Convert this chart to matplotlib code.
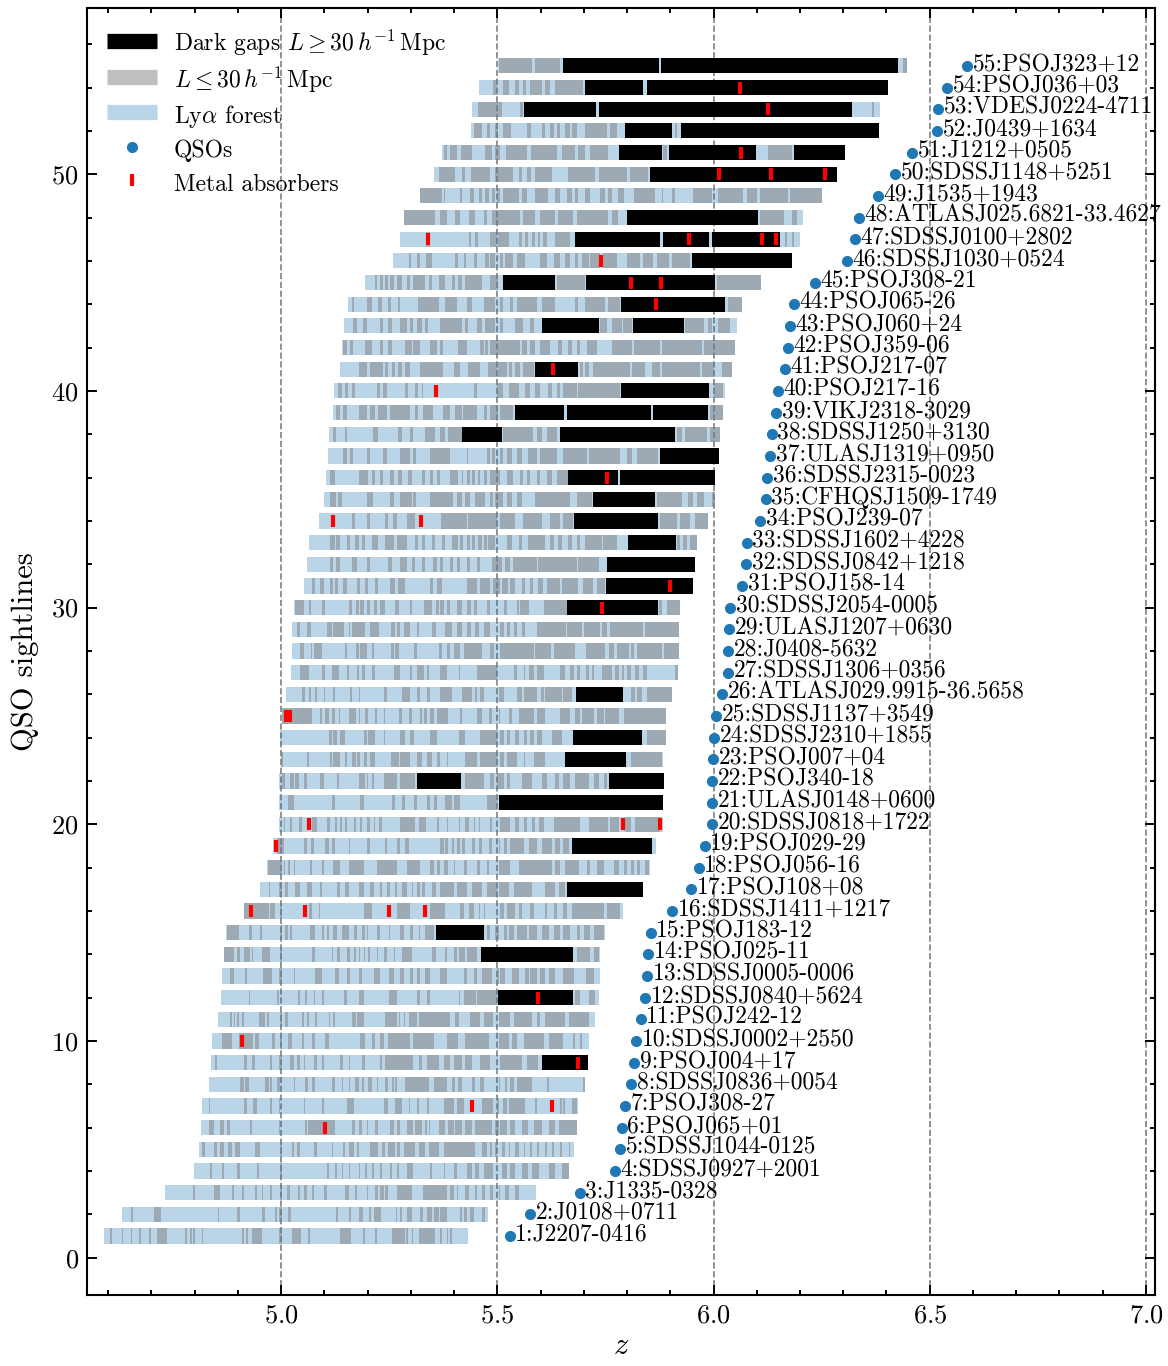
import numpy as np
import matplotlib
matplotlib.use("Agg")
import matplotlib.pyplot as plt
from matplotlib.lines import Line2D
from matplotlib.ticker import MultipleLocator

plt.rcParams["font.family"] = "cmr10"
plt.rcParams["mathtext.fontset"] = "cm"
plt.rcParams["axes.unicode_minus"] = False
plt.rcParams["axes.formatter.use_mathtext"] = True

# ---------------------------------------------------------------- data
names = [
    "J2207-0416", "J0108+0711", "J1335-0328", "SDSSJ0927+2001", "SDSSJ1044-0125",
    "PSOJ065+01", "PSOJ308-27", "SDSSJ0836+0054", "PSOJ004+17", "SDSSJ0002+2550",
    "PSOJ242-12", "SDSSJ0840+5624", "SDSSJ0005-0006", "PSOJ025-11", "PSOJ183-12",
    "SDSSJ1411+1217", "PSOJ108+08", "PSOJ056-16", "PSOJ029-29", "SDSSJ0818+1722",
    "ULASJ0148+0600", "PSOJ340-18", "PSOJ007+04", "SDSSJ2310+1855", "SDSSJ1137+3549",
    "ATLASJ029.9915-36.5658", "SDSSJ1306+0356", "J0408-5632", "ULASJ1207+0630", "SDSSJ2054-0005",
    "PSOJ158-14", "SDSSJ0842+1218", "SDSSJ1602+4228", "PSOJ239-07", "CFHQSJ1509-1749",
    "SDSSJ2315-0023", "ULASJ1319+0950", "SDSSJ1250+3130", "VIKJ2318-3029", "PSOJ217-16",
    "PSOJ217-07", "PSOJ359-06", "PSOJ060+24", "PSOJ065-26", "PSOJ308-21",
    "SDSSJ1030+0524", "SDSSJ0100+2802", "ATLASJ025.6821-33.4627", "J1535+1943", "SDSSJ1148+5251",
    "J1212+0505", "J0439+1634", "VDESJ0224-4711", "PSOJ036+03", "PSOJ323+12",
]

z_qso = [
    5.529, 5.576, 5.691, 5.772, 5.784, 5.788, 5.795, 5.809, 5.816, 5.821,
    5.832, 5.842, 5.846, 5.849, 5.855, 5.904, 5.948, 5.966, 5.980, 5.997,
    5.997, 5.997, 5.999, 6.001, 6.006, 6.020, 6.034, 6.034, 6.036, 6.038,
    6.066, 6.075, 6.077, 6.108, 6.121, 6.124, 6.131, 6.135, 6.145, 6.149,
    6.165, 6.172, 6.177, 6.186, 6.235, 6.309, 6.327, 6.336, 6.380, 6.420,
    6.459, 6.517, 6.519, 6.540, 6.586,
]

forest_start = [
    4.591, 4.633, 4.732, 4.799, 4.811, 4.815, 4.818, 4.832, 4.838, 4.841,
    4.853, 4.861, 4.864, 4.867, 4.873, 4.913, 4.952, 4.967, 4.981, 4.994,
    4.994, 4.994, 5.000, 4.998, 5.002, 5.012, 5.023, 5.025, 5.025, 5.029,
    5.052, 5.060, 5.065, 5.088, 5.099, 5.104, 5.109, 5.110, 5.120, 5.123,
    5.136, 5.141, 5.146, 5.155, 5.194, 5.259, 5.275, 5.284, 5.321, 5.354,
    5.372, 5.439, 5.442, 5.458, 5.502,
]

forest_end = [
    5.432, 5.478, 5.589, 5.665, 5.678, 5.684, 5.686, 5.703, 5.710, 5.711,
    5.727, 5.734, 5.738, 5.738, 5.750, 5.791, 5.837, 5.853, 5.866, 5.883,
    5.883, 5.886, 5.883, 5.889, 5.889, 5.904, 5.917, 5.919, 5.919, 5.922,
    5.953, 5.957, 5.961, 5.988, 6.004, 6.004, 6.013, 6.015, 6.023, 6.027,
    6.042, 6.050, 6.054, 6.065, 6.109, 6.181, 6.199, 6.208, 6.250, 6.285,
    6.304, 6.383, 6.385, 6.404, 6.448,
]

# dark gaps (L >= 30 cMpc/h): sightline number, start z, end z
dark_row = [9, 12, 14, 15, 17, 19, 21, 22, 22, 23, 24, 26, 30, 31, 32, 33, 34, 35,
            36, 36, 37, 38, 38, 39, 39, 39, 40, 41, 43, 43, 44, 45, 45, 46,
            47, 47, 47, 48, 50, 51, 51, 51, 52, 52, 53, 53, 54, 54, 55, 55]
dark_start = [5.603, 5.501, 5.463, 5.357, 5.662, 5.673, 5.505, 5.315, 5.759, 5.657,
              5.674, 5.683, 5.662, 5.752, 5.753, 5.803, 5.677, 5.722,
              5.664, 5.784, 5.876, 5.419, 5.645, 5.541, 5.660, 5.859, 5.786, 5.587,
              5.603, 5.814, 5.786, 5.512, 5.705, 5.951,
              5.680, 5.884, 5.997, 5.800, 5.853, 5.781, 5.897, 6.186, 5.795, 5.925,
              5.562, 5.736, 5.703, 5.846, 5.653, 5.879]
dark_end = [5.710, 5.675, 5.675, 5.470, 5.837, 5.858, 5.883, 5.417, 5.886, 5.798,
            5.835, 5.791, 5.872, 5.953, 5.957, 5.913, 5.872, 5.865,
            5.778, 6.004, 6.013, 5.510, 5.911, 5.654, 5.855, 5.987, 5.990, 5.687,
            5.735, 5.932, 6.027, 5.633, 6.004, 6.181,
            5.876, 5.990, 6.154, 6.102, 6.285, 5.880, 6.098, 6.304, 5.905, 6.383,
            5.728, 6.320, 5.836, 6.404, 5.874, 6.427]

# metal absorbers: sightline number and redshift
metal_row = [6, 7, 7, 9, 10, 12, 16, 16, 16, 16, 19, 20, 20, 20, 25, 25, 30, 31,
             34, 34, 36, 40, 41, 44, 45, 45, 46, 47, 47, 47, 47, 50, 50, 50, 51, 53, 54]
metal_z = [5.101, 5.442, 5.627, 5.687, 4.910, 5.595, 4.930, 5.056, 5.250, 5.333,
           4.987, 5.065, 5.791, 5.877, 5.011, 5.020, 5.741, 5.900,
           5.121, 5.323, 5.754, 5.358, 5.629, 5.868, 5.809, 5.879, 5.740,
           5.340, 5.943, 6.112, 6.145, 6.013, 6.133, 6.258, 6.064, 6.127, 6.061]

# short dark gaps (L <= 30 cMpc/h) per sightline, (start z, end z)
gray_01 = [(4.604, 4.608), (4.631, 4.635), (4.652, 4.656), (4.672, 4.676), (4.695, 4.699),
           (4.714, 4.735), (4.778, 4.782), (4.789, 4.793), (4.797, 4.801), (4.816, 4.820),
           (4.910, 4.914), (4.919, 4.923), (4.932, 4.955), (4.996, 5.001), (5.025, 5.045),
           (5.063, 5.067), (5.135, 5.161), (5.190, 5.194), (5.217, 5.221), (5.256, 5.287),
           (5.289, 5.294), (5.302, 5.306), (5.318, 5.356), (5.368, 5.372), (5.383, 5.387),
           (5.390, 5.394)]
gray_02 = [(4.652, 4.657), (4.706, 4.722), (4.853, 4.857), (4.897, 4.905), (4.955, 4.963),
           (4.986, 4.991), (4.996, 5.002), (5.017, 5.022), (5.126, 5.131), (5.157, 5.162),
           (5.179, 5.189), (5.204, 5.208), (5.215, 5.230), (5.265, 5.268), (5.276, 5.280),
           (5.291, 5.302), (5.321, 5.329), (5.337, 5.348), (5.354, 5.364), (5.368, 5.383),
           (5.414, 5.418), (5.422, 5.429), (5.436, 5.445), (5.464, 5.472)]
gray_03 = [(4.797, 4.801), (4.844, 4.859), (4.886, 4.890), (4.909, 4.913), (4.940, 4.944),
           (4.956, 4.959), (4.975, 4.979), (4.998, 5.002), (5.013, 5.021), (5.040, 5.044),
           (5.052, 5.060), (5.071, 5.075), (5.098, 5.106), (5.148, 5.156), (5.171, 5.175),
           (5.198, 5.202), (5.218, 5.225), (5.229, 5.237), (5.241, 5.248), (5.268, 5.302),
           (5.329, 5.383), (5.391, 5.399), (5.407, 5.410), (5.426, 5.434), (5.449, 5.453),
           (5.464, 5.472), (5.484, 5.491), (5.503, 5.507), (5.518, 5.526), (5.541, 5.549)]
gray_04 = [(4.836, 4.840), (4.863, 4.867), (4.898, 4.905), (4.944, 4.948), (4.998, 5.002),
           (5.106, 5.110), (5.125, 5.129), (5.141, 5.144), (5.156, 5.160), (5.179, 5.183),
           (5.194, 5.198), (5.210, 5.214), (5.229, 5.233), (5.252, 5.256), (5.268, 5.272),
           (5.291, 5.306), (5.345, 5.349), (5.376, 5.380), (5.399, 5.407), (5.430, 5.441),
           (5.449, 5.457), (5.468, 5.491), (5.511, 5.522), (5.530, 5.541), (5.557, 5.572),
           (5.580, 5.596), (5.619, 5.634), (5.649, 5.665)]
gray_05 = [(4.817, 4.824), (4.844, 4.851), (4.859, 4.867), (4.878, 4.886), (4.894, 4.905),
           (4.940, 4.952), (4.998, 5.002), (5.025, 5.029), (5.036, 5.044), (5.075, 5.083),
           (5.117, 5.121), (5.144, 5.148), (5.156, 5.168), (5.175, 5.179), (5.206, 5.225),
           (5.233, 5.241), (5.248, 5.264), (5.268, 5.275), (5.283, 5.310), (5.318, 5.333),
           (5.341, 5.364), (5.376, 5.449), (5.464, 5.476), (5.484, 5.487), (5.495, 5.499),
           (5.511, 5.518), (5.526, 5.530), (5.541, 5.549), (5.561, 5.565), (5.576, 5.580),
           (5.592, 5.596), (5.611, 5.615), (5.626, 5.630), (5.646, 5.649), (5.665, 5.669)]
gray_06 = [(4.832, 4.844), (4.859, 4.867), (4.875, 4.882), (4.929, 4.932), (4.994, 4.998),
           (5.056, 5.060), (5.063, 5.125), (5.164, 5.171), (5.179, 5.187), (5.198, 5.202),
           (5.218, 5.225), (5.252, 5.260), (5.268, 5.275), (5.291, 5.306), (5.310, 5.326),
           (5.333, 5.337), (5.341, 5.345), (5.364, 5.380), (5.387, 5.399), (5.403, 5.418),
           (5.426, 5.441), (5.449, 5.487), (5.495, 5.503), (5.507, 5.522), (5.530, 5.541),
           (5.557, 5.572), (5.584, 5.603), (5.619, 5.634), (5.642, 5.684)]
gray_07 = [(4.832, 4.836), (4.913, 4.921), (4.936, 4.944), (4.975, 4.979), (4.994, 4.998),
           (5.052, 5.056), (5.094, 5.098), (5.152, 5.168), (5.237, 5.248), (5.264, 5.279),
           (5.295, 5.299), (5.314, 5.318), (5.337, 5.341), (5.376, 5.399), (5.407, 5.422),
           (5.464, 5.491), (5.499, 5.503), (5.514, 5.522), (5.526, 5.565), (5.588, 5.592),
           (5.646, 5.649), (5.653, 5.657), (5.673, 5.684)]
gray_08 = [(4.905, 4.913), (4.917, 4.926), (4.963, 4.971), (4.975, 4.979), (4.990, 4.998),
           (5.029, 5.033), (5.056, 5.063), (5.071, 5.079), (5.117, 5.125), (5.141, 5.144),
           (5.156, 5.160), (5.171, 5.179), (5.187, 5.191), (5.202, 5.210), (5.221, 5.225),
           (5.241, 5.248), (5.256, 5.260), (5.264, 5.268), (5.287, 5.341), (5.353, 5.383),
           (5.395, 5.403), (5.410, 5.418), (5.441, 5.449), (5.460, 5.468), (5.503, 5.507),
           (5.518, 5.522), (5.530, 5.538), (5.545, 5.580), (5.615, 5.619), (5.699, 5.703)]
gray_09 = [(4.848, 4.851), (4.913, 4.921), (4.932, 4.939), (4.975, 4.979), (4.994, 5.002),
           (5.021, 5.029), (5.036, 5.044), (5.052, 5.056), (5.075, 5.083), (5.094, 5.098),
           (5.137, 5.144), (5.156, 5.160), (5.187, 5.195), (5.229, 5.233), (5.241, 5.306),
           (5.318, 5.326), (5.337, 5.364), (5.376, 5.391), (5.399, 5.418), (5.426, 5.441),
           (5.461, 5.484), (5.507, 5.557), (5.568, 5.595)]
gray_10 = [(4.863, 4.886), (4.903, 4.935), (4.940, 4.948), (4.979, 4.986), (4.998, 5.002),
           (5.017, 5.025), (5.048, 5.052), (5.071, 5.079), (5.102, 5.110), (5.183, 5.195),
           (5.210, 5.218), (5.229, 5.237), (5.248, 5.299), (5.306, 5.353), (5.383, 5.410),
           (5.426, 5.480), (5.503, 5.526), (5.534, 5.545), (5.561, 5.607), (5.619, 5.653),
           (5.676, 5.680), (5.692, 5.696)]
gray_11 = [(4.882, 4.886), (4.890, 4.894), (4.898, 4.902), (4.909, 4.913), (4.948, 4.963),
           (4.967, 4.971), (4.998, 5.002), (5.010, 5.017), (5.048, 5.052), (5.060, 5.064),
           (5.079, 5.083), (5.110, 5.114), (5.121, 5.125), (5.164, 5.172), (5.175, 5.191),
           (5.241, 5.268), (5.272, 5.276), (5.283, 5.287), (5.295, 5.314), (5.318, 5.391),
           (5.403, 5.411), (5.437, 5.461), (5.468, 5.491), (5.503, 5.530), (5.538, 5.580),
           (5.592, 5.599), (5.611, 5.657), (5.665, 5.711)]
gray_12 = [(4.925, 4.929), (4.990, 4.994), (5.040, 5.044), (5.056, 5.060), (5.075, 5.079),
           (5.094, 5.098), (5.145, 5.152), (5.179, 5.191), (5.249, 5.268), (5.314, 5.322),
           (5.337, 5.345), (5.411, 5.414), (5.422, 5.451), (5.454, 5.499), (5.680, 5.692),
           (5.711, 5.727)]
gray_13 = [(4.882, 4.890), (4.917, 4.921), (4.959, 4.979), (4.994, 5.002), (5.029, 5.033),
           (5.079, 5.094), (5.125, 5.133), (5.152, 5.160), (5.179, 5.187), (5.214, 5.229),
           (5.249, 5.260), (5.276, 5.283), (5.299, 5.306), (5.314, 5.322), (5.333, 5.345),
           (5.368, 5.384), (5.422, 5.430), (5.445, 5.453), (5.464, 5.488), (5.499, 5.503),
           (5.507, 5.518), (5.534, 5.549), (5.565, 5.573), (5.576, 5.592), (5.599, 5.611),
           (5.619, 5.634), (5.653, 5.677), (5.704, 5.723)]
gray_14 = [(4.867, 4.890), (4.898, 4.906), (4.913, 4.929), (4.933, 4.936), (4.956, 4.975),
           (4.998, 5.002), (5.071, 5.079), (5.118, 5.121), (5.129, 5.137), (5.152, 5.160),
           (5.168, 5.172), (5.179, 5.183), (5.191, 5.195), (5.202, 5.206), (5.222, 5.225),
           (5.237, 5.245), (5.260, 5.264), (5.279, 5.303), (5.349, 5.357), (5.380, 5.384),
           (5.399, 5.407), (5.411, 5.426), (5.430, 5.453), (5.684, 5.715), (5.723, 5.734)]
gray_15 = [(4.875, 4.902), (4.925, 4.933), (4.952, 4.956), (4.998, 5.002), (5.010, 5.017),
           (5.021, 5.025), (5.067, 5.079), (5.094, 5.098), (5.106, 5.110), (5.121, 5.129),
           (5.141, 5.156), (5.168, 5.175), (5.187, 5.195), (5.198, 5.202), (5.222, 5.229),
           (5.249, 5.252), (5.276, 5.283), (5.299, 5.306), (5.318, 5.322), (5.333, 5.353),
           (5.476, 5.484), (5.495, 5.503), (5.515, 5.522), (5.526, 5.538), (5.545, 5.569),
           (5.573, 5.592), (5.603, 5.619), (5.630, 5.646), (5.653, 5.669), (5.684, 5.692),
           (5.700, 5.715), (5.723, 5.746)]
gray_16 = [(4.913, 4.971), (4.975, 4.986), (4.998, 5.002), (5.064, 5.071), (5.087, 5.091),
           (5.191, 5.210), (5.268, 5.299), (5.345, 5.380), (5.414, 5.422), (5.434, 5.445),
           (5.457, 5.461), (5.468, 5.472), (5.507, 5.515), (5.522, 5.542), (5.549, 5.557),
           (5.576, 5.584), (5.611, 5.615), (5.630, 5.638), (5.653, 5.661), (5.673, 5.746),
           (5.754, 5.784)]
gray_17 = [(4.971, 4.975), (4.994, 5.002), (5.010, 5.017), (5.033, 5.044), (5.060, 5.071),
           (5.091, 5.094), (5.129, 5.137), (5.148, 5.156), (5.179, 5.191), (5.206, 5.214),
           (5.229, 5.233), (5.245, 5.252), (5.264, 5.268), (5.279, 5.291), (5.303, 5.306),
           (5.314, 5.322), (5.326, 5.333), (5.349, 5.357), (5.368, 5.399), (5.407, 5.430),
           (5.441, 5.464), (5.476, 5.499), (5.503, 5.526), (5.538, 5.580), (5.611, 5.634),
           (5.642, 5.657)]
gray_18 = [(4.970, 5.002), (5.006, 5.010), (5.017, 5.021), (5.029, 5.033), (5.067, 5.071),
           (5.094, 5.098), (5.121, 5.137), (5.156, 5.191), (5.222, 5.268), (5.291, 5.322),
           (5.345, 5.353), (5.360, 5.368), (5.376, 5.387), (5.399, 5.403), (5.422, 5.430),
           (5.453, 5.461), (5.476, 5.480), (5.503, 5.530), (5.549, 5.626), (5.634, 5.646),
           (5.657, 5.688), (5.707, 5.715), (5.731, 5.746), (5.769, 5.781), (5.792, 5.800),
           (5.808, 5.815), (5.823, 5.831), (5.842, 5.850)]
gray_19 = [(4.990, 5.006), (5.052, 5.060), (5.068, 5.075), (5.102, 5.110), (5.118, 5.125),
           (5.156, 5.160), (5.199, 5.206), (5.241, 5.245), (5.268, 5.276), (5.287, 5.295),
           (5.368, 5.376), (5.380, 5.387), (5.395, 5.399), (5.407, 5.414), (5.418, 5.426),
           (5.441, 5.449), (5.457, 5.465), (5.480, 5.488), (5.503, 5.507), (5.515, 5.522),
           (5.530, 5.561), (5.573, 5.592), (5.603, 5.626), (5.634, 5.646), (5.653, 5.665)]
gray_20 = [(5.006, 5.010), (5.021, 5.025), (5.041, 5.048), (5.071, 5.083), (5.106, 5.114),
           (5.125, 5.129), (5.137, 5.141), (5.148, 5.152), (5.168, 5.172), (5.183, 5.187),
           (5.199, 5.206), (5.214, 5.218), (5.226, 5.233), (5.276, 5.310), (5.318, 5.334),
           (5.361, 5.364), (5.384, 5.387), (5.411, 5.414), (5.426, 5.434), (5.445, 5.449),
           (5.457, 5.461), (5.484, 5.488), (5.507, 5.530), (5.542, 5.549), (5.561, 5.569),
           (5.580, 5.588), (5.596, 5.607), (5.630, 5.692), (5.711, 5.757), (5.761, 5.781),
           (5.796, 5.808), (5.819, 5.877)]
gray_21 = [(5.017, 5.029), (5.118, 5.125), (5.183, 5.191), (5.256, 5.264), (5.280, 5.287),
           (5.307, 5.314), (5.337, 5.345), (5.353, 5.361), (5.380, 5.395), (5.399, 5.414),
           (5.476, 5.499)]
gray_22 = [(5.002, 5.010), (5.021, 5.029), (5.033, 5.041), (5.052, 5.060), (5.091, 5.098),
           (5.129, 5.133), (5.179, 5.195), (5.199, 5.202), (5.210, 5.214), (5.237, 5.268),
           (5.276, 5.310), (5.426, 5.468), (5.484, 5.492), (5.499, 5.515), (5.522, 5.530),
           (5.557, 5.580), (5.603, 5.615), (5.634, 5.642), (5.653, 5.669), (5.680, 5.711),
           (5.723, 5.734), (5.746, 5.754)]
gray_23 = [(5.000, 5.004), (5.060, 5.064), (5.114, 5.118), (5.121, 5.137), (5.148, 5.152),
           (5.164, 5.172), (5.175, 5.183), (5.191, 5.199), (5.206, 5.218), (5.253, 5.272),
           (5.276, 5.299), (5.314, 5.326), (5.337, 5.349), (5.361, 5.368), (5.384, 5.387),
           (5.426, 5.453), (5.461, 5.499), (5.507, 5.515), (5.522, 5.546), (5.561, 5.565),
           (5.584, 5.611), (5.808, 5.881)]
gray_24 = [(5.110, 5.118), (5.121, 5.129), (5.137, 5.148), (5.191, 5.199), (5.202, 5.218),
           (5.237, 5.241), (5.276, 5.287), (5.299, 5.307), (5.345, 5.361), (5.411, 5.426),
           (5.461, 5.499), (5.507, 5.515), (5.522, 5.530), (5.542, 5.549), (5.561, 5.569),
           (5.576, 5.584), (5.592, 5.603), (5.626, 5.650), (5.846, 5.889)]
gray_25 = [(5.002, 5.071), (5.091, 5.095), (5.102, 5.110), (5.118, 5.125), (5.133, 5.137),
           (5.156, 5.172), (5.179, 5.183), (5.195, 5.202), (5.218, 5.222), (5.237, 5.241),
           (5.272, 5.280), (5.295, 5.303), (5.322, 5.326), (5.330, 5.337), (5.345, 5.353),
           (5.361, 5.387), (5.414, 5.418), (5.453, 5.465), (5.480, 5.488), (5.503, 5.507),
           (5.526, 5.534), (5.549, 5.584), (5.592, 5.611), (5.646, 5.669), (5.680, 5.692),
           (5.696, 5.723), (5.731, 5.746), (5.750, 5.781), (5.792, 5.889)]
gray_26 = [(5.048, 5.056), (5.064, 5.068), (5.079, 5.083), (5.098, 5.102), (5.121, 5.125),
           (5.160, 5.164), (5.179, 5.183), (5.237, 5.245), (5.280, 5.299), (5.314, 5.322),
           (5.337, 5.345), (5.368, 5.395), (5.418, 5.441), (5.449, 5.453), (5.461, 5.468),
           (5.503, 5.515), (5.546, 5.557), (5.561, 5.592), (5.600, 5.607), (5.610, 5.650),
           (5.653, 5.673), (5.808, 5.819), (5.823, 5.835), (5.846, 5.904)]
gray_27 = [(5.044, 5.064), (5.095, 5.102), (5.118, 5.133), (5.152, 5.156), (5.175, 5.179),
           (5.187, 5.195), (5.210, 5.218), (5.260, 5.276), (5.299, 5.303), (5.314, 5.330),
           (5.337, 5.341), (5.368, 5.384), (5.411, 5.414), (5.453, 5.499), (5.538, 5.546),
           (5.561, 5.565), (5.573, 5.584), (5.592, 5.607), (5.646, 5.657), (5.669, 5.677),
           (5.684, 5.692), (5.704, 5.711), (5.719, 5.723), (5.742, 5.765), (5.773, 5.781),
           (5.788, 5.792), (5.800, 5.808), (5.819, 5.827), (5.838, 5.846), (5.912, 5.917)]
gray_28 = [(5.044, 5.052), (5.068, 5.071), (5.075, 5.095), (5.148, 5.152), (5.172, 5.179),
           (5.183, 5.199), (5.210, 5.214), (5.253, 5.260), (5.264, 5.272), (5.307, 5.314),
           (5.364, 5.372), (5.384, 5.391), (5.399, 5.414), (5.422, 5.465), (5.484, 5.492),
           (5.507, 5.584), (5.588, 5.623), (5.630, 5.680), (5.704, 5.750), (5.758, 5.769),
           (5.777, 5.804), (5.808, 5.815), (5.823, 5.881), (5.885, 5.919)]
gray_29 = [(5.037, 5.044), (5.060, 5.068), (5.106, 5.118), (5.121, 5.145), (5.156, 5.160),
           (5.164, 5.195), (5.206, 5.226), (5.253, 5.264), (5.268, 5.276), (5.283, 5.299),
           (5.314, 5.318), (5.349, 5.357), (5.380, 5.395), (5.407, 5.418), (5.430, 5.438),
           (5.449, 5.457), (5.468, 5.484), (5.507, 5.515), (5.522, 5.530), (5.538, 5.546),
           (5.557, 5.565), (5.592, 5.659), (5.662, 5.696), (5.700, 5.738), (5.742, 5.754),
           (5.761, 5.838), (5.842, 5.919)]
gray_30 = [(5.033, 5.052), (5.064, 5.068), (5.095, 5.102), (5.156, 5.164), (5.172, 5.179),
           (5.183, 5.191), (5.199, 5.206), (5.214, 5.222), (5.229, 5.241), (5.264, 5.272),
           (5.299, 5.303), (5.330, 5.349), (5.357, 5.364), (5.368, 5.376), (5.384, 5.391),
           (5.407, 5.418), (5.430, 5.438), (5.445, 5.453), (5.476, 5.484), (5.515, 5.522),
           (5.546, 5.549), (5.553, 5.573), (5.607, 5.661), (5.873, 5.881), (5.892, 5.922)]
gray_31 = [(5.071, 5.079), (5.091, 5.098), (5.113, 5.121), (5.125, 5.132), (5.144, 5.152),
           (5.175, 5.182), (5.194, 5.202), (5.217, 5.225), (5.252, 5.263), (5.271, 5.286),
           (5.344, 5.352), (5.360, 5.371), (5.429, 5.452), (5.460, 5.483), (5.491, 5.506),
           (5.510, 5.525), (5.529, 5.541), (5.556, 5.564), (5.576, 5.583), (5.595, 5.606),
           (5.614, 5.645), (5.649, 5.687), (5.699, 5.722), (5.730, 5.749)]
gray_32 = [(5.113, 5.121), (5.128, 5.136), (5.163, 5.175), (5.198, 5.206), (5.248, 5.256),
           (5.275, 5.290), (5.302, 5.310), (5.325, 5.333), (5.352, 5.360), (5.367, 5.375),
           (5.391, 5.398), (5.406, 5.414), (5.429, 5.437), (5.452, 5.460), (5.487, 5.510),
           (5.518, 5.529), (5.537, 5.591), (5.595, 5.684), (5.687, 5.734)]
gray_33 = [(5.113, 5.125), (5.128, 5.136), (5.152, 5.159), (5.171, 5.179), (5.186, 5.194),
           (5.209, 5.225), (5.240, 5.260), (5.267, 5.290), (5.310, 5.317), (5.325, 5.333),
           (5.348, 5.356), (5.371, 5.379), (5.394, 5.410), (5.414, 5.421), (5.429, 5.437),
           (5.441, 5.448), (5.456, 5.464), (5.468, 5.475), (5.479, 5.495), (5.522, 5.533),
           (5.549, 5.556), (5.572, 5.610), (5.622, 5.630), (5.641, 5.649), (5.664, 5.672),
           (5.684, 5.691), (5.703, 5.741), (5.745, 5.776), (5.915, 5.923), (5.930, 5.938),
           (5.946, 5.961)]
gray_34 = [(5.163, 5.171), (5.198, 5.206), (5.240, 5.248), (5.259, 5.267), (5.290, 5.310),
           (5.370, 5.429), (5.433, 5.499), (5.506, 5.541), (5.560, 5.603), (5.622, 5.645),
           (5.653, 5.676), (5.876, 5.915), (5.923, 5.946), (5.957, 5.988)]
gray_35 = [(5.113, 5.128), (5.132, 5.140), (5.198, 5.213), (5.252, 5.260), (5.275, 5.302),
           (5.306, 5.313), (5.344, 5.398), (5.406, 5.418), (5.425, 5.437), (5.448, 5.472),
           (5.483, 5.491), (5.495, 5.514), (5.522, 5.533), (5.545, 5.556), (5.587, 5.668),
           (5.684, 5.718), (5.869, 5.926), (5.942, 5.953), (5.961, 5.977), (5.996, 6.004)]
gray_36 = [(5.113, 5.125), (5.179, 5.202), (5.209, 5.217), (5.229, 5.236), (5.252, 5.260),
           (5.271, 5.279), (5.294, 5.302), (5.325, 5.333), (5.344, 5.352), (5.360, 5.367),
           (5.391, 5.410), (5.418, 5.421), (5.429, 5.437), (5.441, 5.448), (5.456, 5.460),
           (5.468, 5.475), (5.483, 5.506), (5.522, 5.537), (5.552, 5.560), (5.568, 5.576),
           (5.591, 5.599), (5.614, 5.626), (5.637, 5.664)]
gray_37 = [(5.144, 5.152), (5.159, 5.167), (5.198, 5.206), (5.236, 5.244), (5.275, 5.298),
           (5.306, 5.313), (5.344, 5.391), (5.429, 5.433), (5.475, 5.483), (5.487, 5.495),
           (5.506, 5.514), (5.522, 5.533), (5.545, 5.556), (5.572, 5.591), (5.599, 5.637),
           (5.653, 5.707), (5.711, 5.784), (5.799, 5.811), (5.822, 5.872)]
gray_38 = [(5.121, 5.128), (5.148, 5.152), (5.213, 5.225), (5.271, 5.279), (5.298, 5.306),
           (5.333, 5.356), (5.367, 5.379), (5.387, 5.418), (5.514, 5.583), (5.591, 5.603),
           (5.614, 5.637), (5.915, 5.926), (5.934, 5.984), (5.992, 6.015)]
gray_39 = [(5.128, 5.136), (5.144, 5.152), (5.179, 5.198), (5.206, 5.217), (5.225, 5.244),
           (5.252, 5.298), (5.310, 5.317), (5.329, 5.352), (5.375, 5.391), (5.402, 5.418),
           (5.421, 5.452), (5.468, 5.475), (5.483, 5.502), (5.506, 5.537), (5.992, 6.023)]
gray_40 = [(5.132, 5.140), (5.148, 5.155), (5.163, 5.171), (5.221, 5.229), (5.236, 5.244),
           (5.286, 5.294), (5.310, 5.317), (5.325, 5.329), (5.445, 5.452), (5.499, 5.514),
           (5.526, 5.549), (5.564, 5.576), (5.587, 5.599), (5.618, 5.626), (5.637, 5.645),
           (5.653, 5.684), (5.687, 5.784), (6.000, 6.023)]
gray_41 = [(5.179, 5.198), (5.206, 5.236), (5.240, 5.248), (5.256, 5.263), (5.271, 5.279),
           (5.286, 5.298), (5.321, 5.375), (5.400, 5.414), (5.433, 5.460), (5.479, 5.499),
           (5.502, 5.522), (5.526, 5.533), (5.541, 5.552), (5.560, 5.585), (5.691, 5.699),
           (5.703, 5.711), (5.722, 5.807), (5.811, 5.842), (5.857, 5.876), (5.880, 5.969),
           (5.973, 6.000), (6.019, 6.042)]
gray_42 = [(5.144, 5.152), (5.159, 5.167), (5.194, 5.209), (5.229, 5.236), (5.248, 5.256),
           (5.286, 5.302), (5.306, 5.321), (5.344, 5.360), (5.367, 5.375), (5.410, 5.429),
           (5.460, 5.468), (5.472, 5.479), (5.483, 5.552), (5.556, 5.568), (5.576, 5.587),
           (5.599, 5.622), (5.641, 5.649), (5.664, 5.672), (5.684, 5.691), (5.707, 5.730),
           (5.765, 5.811), (5.815, 5.876), (5.880, 5.973), (5.977, 6.050)]
gray_43 = [(5.167, 5.175), (5.190, 5.198), (5.229, 5.235), (5.248, 5.256), (5.275, 5.290),
           (5.298, 5.306), (5.315, 5.325), (5.333, 5.340), (5.367, 5.418), (5.425, 5.433),
           (5.452, 5.464), (5.472, 5.495), (5.506, 5.514), (5.541, 5.560), (5.576, 5.585),
           (5.738, 5.753), (5.765, 5.788), (5.791, 5.811), (5.934, 5.977), (5.988, 5.996),
           (6.011, 6.038)]
gray_44 = [(5.163, 5.169), (5.198, 5.209), (5.225, 5.233), (5.248, 5.254), (5.271, 5.275),
           (5.317, 5.364), (5.379, 5.406), (5.429, 5.441), (5.468, 5.495), (5.506, 5.514),
           (5.529, 5.537), (5.545, 5.591), (5.603, 5.633), (5.680, 5.687), (5.703, 5.749),
           (5.757, 5.784), (6.034, 6.065)]
gray_45 = [(5.216, 5.222), (5.229, 5.235), (5.241, 5.247), (5.252, 5.260), (5.268, 5.279),
           (5.291, 5.299), (5.306, 5.333), (5.341, 5.350), (5.364, 5.380), (5.395, 5.403),
           (5.410, 5.418), (5.426, 5.464), (5.483, 5.502), (5.637, 5.703), (6.007, 6.109)]
gray_46 = [(5.295, 5.301), (5.314, 5.322), (5.336, 5.349), (5.403, 5.410), (5.422, 5.428),
           (5.445, 5.453), (5.472, 5.480), (5.483, 5.495), (5.506, 5.514), (5.518, 5.537),
           (5.545, 5.564), (5.599, 5.614), (5.630, 5.645), (5.657, 5.668), (5.680, 5.687),
           (5.695, 5.711), (5.714, 5.738), (5.745, 5.776), (5.799, 5.830), (5.838, 5.861),
           (5.869, 5.896), (5.903, 5.946)]
gray_47 = [(5.335, 5.345), (5.434, 5.438), (5.449, 5.455), (5.484, 5.499), (5.502, 5.528),
           (5.549, 5.556), (5.564, 5.572), (5.580, 5.587), (5.595, 5.599), (5.606, 5.614),
           (5.633, 5.668), (6.165, 6.171), (6.181, 6.186)]
gray_48 = [(5.285, 5.356), (5.368, 5.383), (5.403, 5.414), (5.435, 5.449), (5.468, 5.476),
           (5.487, 5.552), (5.560, 5.587), (5.599, 5.633), (5.641, 5.676), (5.684, 5.757),
           (5.765, 5.780), (6.108, 6.162), (6.181, 6.193)]
gray_49 = [(5.322, 5.372), (5.376, 5.380), (5.414, 5.418), (5.437, 5.445), (5.457, 5.464),
           (5.472, 5.480), (5.487, 5.495), (5.500, 5.506), (5.514, 5.549), (5.556, 5.568),
           (5.587, 5.618), (5.634, 5.645), (5.660, 5.672), (5.680, 5.687), (5.703, 5.714),
           (5.738, 5.749), (5.757, 5.765), (5.780, 5.792), (5.815, 5.865), (5.880, 5.884),
           (5.903, 5.911), (5.953, 5.996), (6.011, 6.069), (6.077, 6.100), (6.108, 6.173),
           (6.177, 6.250)]
gray_50 = [(5.364, 5.401), (5.418, 5.426), (5.440, 5.484), (5.495, 5.537), (5.549, 5.556),
           (5.568, 5.579), (5.587, 5.626), (5.664, 5.726), (5.734, 5.799), (5.807, 5.849)]
gray_51 = [(5.376, 5.383), (5.391, 5.407), (5.417, 5.441), (5.472, 5.487), (5.495, 5.507),
           (5.520, 5.568), (5.579, 5.637), (5.649, 5.680), (5.687, 5.703), (5.714, 5.757),
           (5.884, 5.892), (6.127, 6.181)]
gray_52 = [(5.445, 5.464), (5.476, 5.484), (5.494, 5.501), (5.514, 5.532), (5.568, 5.579),
           (5.603, 5.610), (5.622, 5.630), (5.637, 5.645), (5.657, 5.668), (5.672, 5.684),
           (5.703, 5.753), (5.761, 5.776), (5.911, 5.916)]
gray_53 = [(5.455, 5.511), (5.552, 5.560), (6.366, 6.371)]
gray_54 = [(5.491, 5.499), (5.514, 5.526), (5.541, 5.549), (5.559, 5.566), (5.576, 5.603),
           (5.610, 5.622), (5.633, 5.699)]
gray_55 = [(5.503, 5.580), (5.586, 5.645), (6.438, 6.447)]

gray_gaps = [
    gray_01, gray_02, gray_03, gray_04, gray_05, gray_06, gray_07, gray_08, gray_09, gray_10,
    gray_11, gray_12, gray_13, gray_14, gray_15, gray_16, gray_17, gray_18, gray_19, gray_20,
    gray_21, gray_22, gray_23, gray_24, gray_25, gray_26, gray_27, gray_28, gray_29, gray_30,
    gray_31, gray_32, gray_33, gray_34, gray_35, gray_36, gray_37, gray_38, gray_39, gray_40,
    gray_41, gray_42, gray_43, gray_44, gray_45, gray_46, gray_47, gray_48, gray_49, gray_50,
    gray_51, gray_52, gray_53, gray_54, gray_55,
]

z_grid = [5.0, 5.5, 6.0, 6.5, 7.0]

# ---------------------------------------------------------------- figure
fig = plt.figure(figsize=(11.68, 13.66), dpi=100)
ax = fig.add_axes([87 / 1168, 1 - 1295 / 1366, (1155 - 87) / 1168, (1295 - 8) / 1366])

rows = np.arange(1, len(names) + 1)
bar_h = 0.7

for zg in z_grid:
    ax.axvline(zg, color="gray", ls="--", lw=1.2, zorder=0)

fs = np.array(forest_start)
fe = np.array(forest_end)
ax.barh(rows, fe - fs, left=fs, height=bar_h, color="C0", alpha=0.3, lw=0, zorder=1)

for r, segs in zip(rows, gray_gaps):
    lo = np.array([a for a, b in segs])
    hi = np.array([b for a, b in segs])
    ax.barh(np.full(len(segs), r), hi - lo, left=lo, height=bar_h,
            color="gray", alpha=0.5, lw=0, zorder=2)

ds = np.array(dark_start)
de = np.array(dark_end)
ax.barh(dark_row, de - ds, left=ds, height=bar_h, color="black", lw=0, zorder=3)

ax.plot(metal_z, metal_row, ls="none", marker="|", ms=8, mew=3, color="red", zorder=4)
ax.plot(z_qso, rows, ls="none", marker="o", ms=7, color="C0", zorder=5)

for r, zq, nm in zip(rows, z_qso, names):
    ax.annotate(f"{r}:{nm}", (zq, r), xytext=(4, -3.2), textcoords="offset points",
                ha="left", va="baseline", fontsize=17, annotation_clip=False)

ax.set_xlim(4.551, 7.021)
ax.set_ylim(-1.72, 57.67)
ax.xaxis.set_major_locator(MultipleLocator(0.5))
ax.xaxis.set_minor_locator(MultipleLocator(0.1))
ax.yaxis.set_major_locator(MultipleLocator(10))
ax.yaxis.set_minor_locator(MultipleLocator(2))
ax.tick_params(which="both", direction="in", top=True, right=True, width=1.4, labelsize=19)
ax.tick_params(which="major", length=7, pad=6)
ax.tick_params(which="minor", length=3.5)
for sp in ax.spines.values():
    sp.set_linewidth(1.5)

ax.set_xlabel("$z$", fontsize=22)
ax.set_ylabel("QSO sightlines", fontsize=22, labelpad=9)

bar_lw = 11
handles = [
    Line2D([], [], color="black", lw=bar_lw, solid_capstyle="butt"),
    Line2D([], [], color="gray", alpha=0.5, lw=bar_lw, solid_capstyle="butt"),
    Line2D([], [], color="C0", alpha=0.3, lw=bar_lw, solid_capstyle="butt"),
    Line2D([], [], ls="none", marker="o", ms=7, color="C0"),
    Line2D([], [], ls="none", marker="|", ms=8, mew=3, color="red"),
]
labels = [
    r"Dark gaps $L \geq 30\,h^{-1}\,\mathrm{Mpc}$",
    r"$L \leq 30\,h^{-1}\,\mathrm{Mpc}$",
    r"Ly$\alpha$ forest",
    "QSOs",
    "Metal absorbers",
]
ax.legend(handles, labels, loc="upper left", frameon=False, fontsize=17,
          handlelength=2.1, handleheight=1.35, labelspacing=0.28, borderpad=0.35,
          handletextpad=0.72)

fig.savefig("out.png", dpi=100)
